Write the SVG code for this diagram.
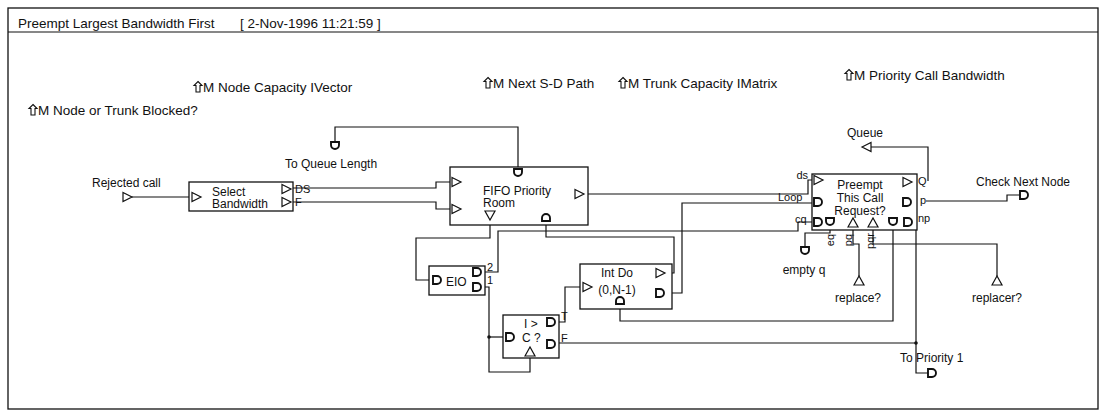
<svg xmlns="http://www.w3.org/2000/svg" xmlns:xlink="http://www.w3.org/1999/xlink" width="1105" height="411" viewBox="0 0 1105 411">
<style>
text{font-family:"Liberation Sans",Arial,Helvetica,sans-serif;font-size:12px;fill:#111}
.t13{font-size:13.5px}
.sm{font-size:11px}
.box{fill:#fff;stroke:#111;stroke-width:1.3}
.ln{fill:none;stroke:#111;stroke-width:1.2}
.tri{fill:#fff;stroke:#111;stroke-width:1.2}
.val{fill:#fff;stroke:#111;stroke-width:1.9}
.icon{fill:#fff;stroke:#111;stroke-width:1.1}
.mid{text-anchor:middle}
.end{text-anchor:end}
</style>
<defs>
<path id="tr" class="tri" d="M0,-4.5 L9,0 L0,4.5 Z"/>
<path id="tl" class="tri" d="M0,0 L9,-4.5 L9,4.5 Z"/>
<path id="tu" class="tri" d="M-5,0 L0,-9 L5,0 Z"/>
<path id="td" class="tri" d="M-5,0 L5,0 L0,9 Z"/>
<path id="vr" class="val" d="M0,-4 H4 A4,4 0 0 1 4,4 H0 Z"/>
<path id="vd" class="val" d="M-4,0 H4 V3 A4,4 0 0 1 -4,3 Z"/>
<path id="vu" class="val" d="M-4,0 H4 V-3 A4,4 0 0 0 -4,-3 Z"/>
<path id="up" class="icon" d="M4,-10.5 L8,-6.5 H6 V0 H2 V-6.5 H0 Z"/>
</defs>
<rect x="0" y="0" width="1105" height="411" fill="#fff"/>
<g id="frame">
<rect x="8" y="8" width="1090" height="401" fill="none" stroke="#111" stroke-width="1.3"/>
<line x1="8" y1="32" x2="1098" y2="32" stroke="#111" stroke-width="1.2"/>
<text class="t13" x="18" y="28">Preempt Largest Bandwidth First</text>
<text class="t13" x="240" y="28">[ 2-Nov-1996 11:21:59 ]</text>
</g>
<g id="globals">
<use href="#up" x="29" y="115"/>
<text class="t13" x="38" y="115">M Node or Trunk Blocked?</text>
<use href="#up" x="194" y="92"/>
<text class="t13" x="203" y="92">M Node Capacity IVector</text>
<use href="#up" x="484" y="88"/>
<text class="t13" x="493" y="88">M Next S-D Path</text>
<use href="#up" x="619" y="88"/>
<text class="t13" x="628" y="88">M Trunk Capacity IMatrix</text>
<use href="#up" x="845" y="80"/>
<text class="t13" x="854" y="80">M Priority Call Bandwidth</text>
</g>
<g id="connectors">
<path class="ln" d="M132,197 H189"/>
<path class="ln" d="M293,188 H436 V182 H452"/>
<path class="ln" d="M293,202 H436 V209 H452"/>
<path class="ln" d="M518,168 V127 H335 V142"/>
<path class="ln" d="M588,194 H808 V180 H814"/>
<path class="ln" d="M490,223 V238 H416 V280 H433"/>
<path class="ln" d="M485,272 H498 V231 H798 V222 H814"/>
<path class="ln" d="M485,287 H489 V372 H530 V356"/>
<path class="ln" d="M489,337 H506"/>
<path class="ln" d="M559,322 H565 V287 H583"/>
<path class="ln" d="M559,343 H916"/>
<path class="ln" d="M665,273 H674 V237 H546 V222"/>
<path class="ln" d="M665,293 H682 V203 H814"/>
<path class="ln" d="M620,304 V321 H893 V227"/>
<path class="ln" d="M830,227 V233 H805 V247"/>
<path class="ln" d="M853,227 V244 H859 V276"/>
<path class="ln" d="M873,227 V244 H997 V276"/>
<path class="ln" d="M912,222 H916 V373 H928"/>
<path class="ln" d="M928,181 V147 H871"/>
<path class="ln" d="M926,201 H1007 V195 H1020"/>
<circle cx="489" cy="337" r="1.8" fill="#111"/>
<circle cx="916" cy="343" r="1.8" fill="#111"/>
</g>
<g id="rejected-call">
<use href="#tr" x="123" y="197"/>
<text x="92" y="187">Rejected call</text>
</g>
<g id="select-bandwidth">
<rect class="box" x="189" y="182" width="104" height="29"/>
<use href="#tr" x="192" y="197"/>
<use href="#tr" x="282" y="189"/>
<use href="#tr" x="282" y="202"/>
<text x="212" y="196">Select</text>
<text x="212" y="208">Bandwidth</text>
<text class="sm" x="295" y="193">DS</text>
<text class="sm" x="295" y="206">F</text>
</g>
<g id="to-queue-length">
<use href="#vd" x="335" y="142"/>
<text x="285" y="168">To Queue Length</text>
</g>
<g id="fifo-priority-room">
<rect class="box" x="450" y="167" width="138" height="58"/>
<use href="#tr" x="452" y="182"/>
<use href="#tr" x="452" y="209"/>
<use href="#vd" x="518" y="169"/>
<use href="#tr" x="575" y="194"/>
<use href="#td" x="490" y="211"/>
<use href="#vu" x="546" y="221"/>
<text x="483" y="195">FIFO Priority</text>
<text x="483" y="207">Room</text>
</g>
<g id="eio">
<rect class="box" x="429" y="266" width="56" height="29"/>
<use href="#vr" x="433" y="280"/>
<use href="#vr" x="473" y="272"/>
<use href="#vr" x="473" y="287"/>
<text x="446" y="286">EIO</text>
<text class="sm" x="487" y="271">2</text>
<text class="sm" x="487" y="284">1</text>
</g>
<g id="i-gt-c">
<rect class="box" x="503" y="315" width="56" height="43"/>
<use href="#vr" x="506" y="337"/>
<use href="#vr" x="547" y="322"/>
<use href="#vr" x="547" y="344"/>
<use href="#tu" x="530" y="356"/>
<text x="524" y="328">I &gt;</text>
<text x="522" y="342">C ?</text>
<text class="sm" x="561" y="320">T</text>
<text class="sm" x="561" y="342">F</text>
</g>
<g id="int-do">
<rect class="box" x="580" y="264" width="92" height="45"/>
<use href="#tr" x="583" y="287"/>
<use href="#tr" x="656" y="273"/>
<use href="#vr" x="656" y="293"/>
<use href="#vu" x="620" y="304"/>
<text class="mid" x="617" y="277">Int Do</text>
<text class="mid" x="617" y="294">(0,N-1)</text>
</g>
<g id="preempt">
<rect class="box" x="812" y="174" width="105" height="56"/>
<use href="#tr" x="814" y="180"/>
<use href="#vr" x="814" y="202"/>
<use href="#vr" x="814" y="222"/>
<use href="#vd" x="830" y="218"/>
<use href="#tu" x="853" y="227"/>
<use href="#tu" x="873" y="227"/>
<use href="#vd" x="893" y="218"/>
<use href="#vr" x="904" y="222"/>
<use href="#tr" x="903" y="182"/>
<use href="#vr" x="903" y="202"/>
<text class="mid" x="860" y="189">Preempt</text>
<text class="mid" x="860" y="202">This Call</text>
<text class="mid" x="860" y="215">Request?</text>
<text class="sm end" x="808" y="179">ds</text>
<text class="sm" x="778" y="201">Loop</text>
<text class="sm" x="795" y="223">cq</text>
<text class="sm" x="918" y="185">Q</text>
<text class="sm" x="920" y="204">p</text>
<text class="sm" x="918" y="222">np</text>
<text class="sm mid" x="834" y="240" transform="rotate(-90 834 240)">eq</text>
<text class="sm mid" x="852" y="240" transform="rotate(-90 852 240)">pq</text>
<text class="sm mid" x="874" y="241" transform="rotate(-90 874 241)">pqr</text>
</g>
<g id="queue">
<use href="#tl" x="862" y="147"/>
<text class="mid" x="865" y="137">Queue</text>
</g>
<g id="check-next-node">
<use href="#vr" x="1020" y="195"/>
<text x="976" y="186">Check Next Node</text>
</g>
<g id="empty-q">
<use href="#vd" x="805" y="247"/>
<text class="mid" x="804" y="274">empty q</text>
</g>
<g id="replace">
<use href="#tu" x="859" y="285"/>
<text class="mid" x="858" y="302">replace?</text>
</g>
<g id="replacer">
<use href="#tu" x="997" y="285"/>
<text class="mid" x="997" y="302">replacer?</text>
</g>
<g id="to-priority-1">
<use href="#vr" x="928" y="373"/>
<text x="900" y="362">To Priority 1</text>
</g>
</svg>
